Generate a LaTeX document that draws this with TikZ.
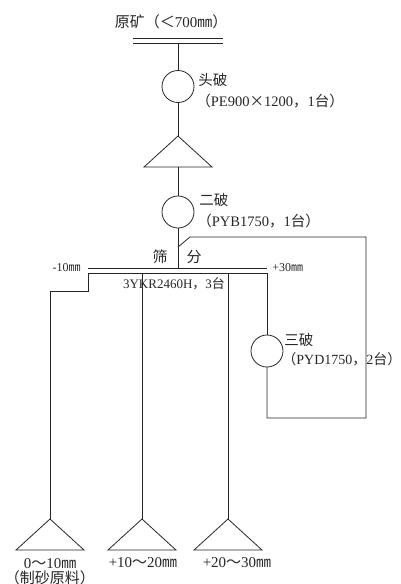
\documentclass[tikz,border=0pt]{standalone}
\usepackage{fontspec}
\setmainfont{Liberation Serif}
\newfontfamily\cjk{Noto Sans CJK SC}
\usetikzlibrary{shapes.geometric}

\begin{document}
\begin{tikzpicture}[x=1pt,y=-1pt,
  line width=0.8pt, color=black!85,
  crusher/.style={draw,circle,minimum size=32pt,inner sep=0pt,outer sep=0pt},
  pile/.style={draw,isosceles triangle,isosceles triangle stretches,
               shape border rotate=90,minimum width=68pt,minimum height=31pt,
               inner sep=0pt,outer sep=0pt},
  deck/.style={inner sep=0pt,outer sep=0pt},
  lab/.style={anchor=west,inner sep=0pt,font=\fontsize{14.5}{16}\selectfont},
  mesh/.style={inner sep=0pt,font=\fontsize{12}{14}\selectfont},
  prod/.style={inner sep=0pt,font=\fontsize{15}{17}\selectfont},
]
\useasboundingbox (0,0) rectangle (400,584);

%% -- feed and primary crushing ---------------------------------------
\node[prod] (feed) at (171,22) {{\cjk 原矿（＜}700{\cjk ㎜）}};
\node[deck,minimum width=90pt,minimum height=5pt] (grizzly) at (178,40.5) {};
\draw (grizzly.north west) -- (grizzly.north east);
\draw (grizzly.south west) -- (grizzly.south east);

\node[crusher] (crushA) at (178,86.5) {};
\node[lab] (labA1) at (198,80) {\cjk 头破};
\node[lab] (labA2) at (196,101) {{\cjk （}PE900{\cjk ×}1200{\cjk ，}1{\cjk 台）}};

\node[pile,anchor=apex] (coneA) at (178,136) {};

%% -- secondary crushing ----------------------------------------------
\node[crusher] (crushB) at (178,212) {};
\node[lab] (labB1) at (199,200) {\cjk 二破};
\node[lab] (labB2) at (197,221) {{\cjk （}PYB1750{\cjk ，}1{\cjk 台）}};

%% -- screen ------------------------------------------------------------
\node[deck,minimum width=179pt,minimum height=5pt] (screen) at (177.5,270.5) {};
\draw (screen.north west) -- (screen.north east);
\node[mesh,anchor=east] (fine) at ([xshift=-7pt]screen.north west) {-10{\cjk ㎜}};
\node[mesh,anchor=west] (coarse) at ([xshift=5pt]screen.north east) {+30{\cjk ㎜}};
\node[prod] (scrA) at (160,257) {\cjk 筛};
\node[prod] (scrB) at (194,257) {\cjk 分};
\node[mesh,font=\fontsize{13}{15}\selectfont] (model) at (174,284) {3YKR2460H{\cjk ，}3{\cjk 台}};

%% -- tertiary crushing -------------------------------------------------
\node[crusher] (crushC) at (267,351) {};
\node[lab] (labC1) at (284,340) {\cjk 三破};
\node[lab,font=\fontsize{14}{16}\selectfont] (labC2) at (282,359) {{\cjk （}PYD1750{\cjk ，}2{\cjk 台）}};

%% -- product piles -----------------------------------------------------
\node[pile,anchor=apex] (coneL) at (50,519) {};
\node[pile,anchor=apex] (coneM) at (142,519) {};
\node[pile,anchor=apex] (coneR) at (228,519) {};
\node[prod] (outL) at (50,564) {0{\cjk ～}10{\cjk ㎜}};
\node[prod] (outL2) at (50,578) {\cjk （制砂原料）};
\node[prod] (outM) at (143,563) {+10{\cjk ～}20{\cjk ㎜}};
\node[prod] (outR) at (237,563) {+20{\cjk ～}30{\cjk ㎜}};

%% -- main line ---------------------------------------------------------
\draw (grizzly.south) -- (crushA.north);
\draw (crushA.south) -- (coneA.apex);
\draw (coneA.lower side) -- (crushB.north);
\draw (crushB.south) -- (screen.north -| crushB.south);

%% screen deck and product lines
\draw (coneL.apex) |- ([yshift=-18pt]screen.south west)
  -- (screen.south west) -- (screen.south east) -- (crushC.north);
\draw (screen.south -| coneM.apex) -- (coneM.apex);
\draw (screen.south -| coneR.apex) -- (coneR.apex);

%% closed circuit back to the screen
\coordinate (loopB) at (366,418);
\coordinate (loopT) at (366,237);
\coordinate (kink) at (190,237);
\coordinate (join) at (178,247);
\draw (crushC.south) |- (loopB) -- (loopT) -- (kink) -- (join);

\end{tikzpicture}
\end{document}
